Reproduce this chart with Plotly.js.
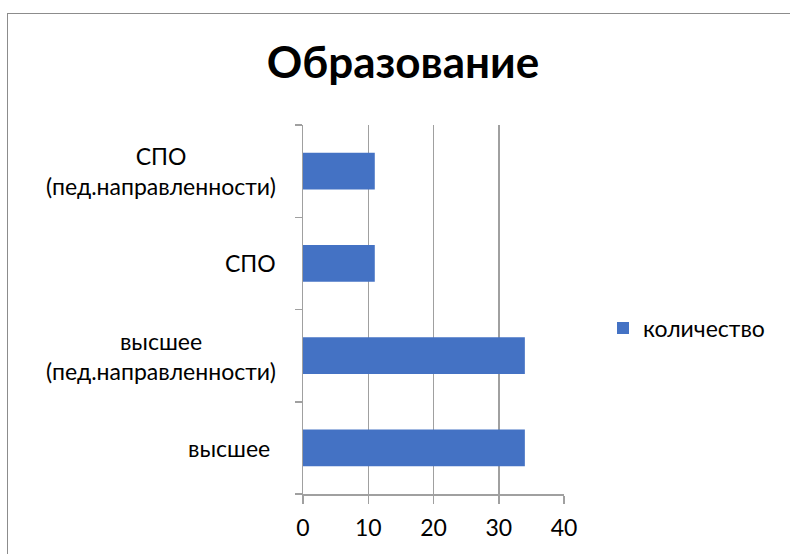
<!DOCTYPE html>
<html>
<head>
<meta charset="utf-8">
<script src="https://cdn.plot.ly/plotly-3.0.1.min.js"></script>
<style>
  html, body { margin:0; padding:0; background:#fff; }
  #wrap { position:relative; width:790px; height:554px; overflow:hidden; }
  #frame { position:absolute; left:7px; top:13px; width:820px; height:600px; border:1px solid #8c8c8c; box-sizing:border-box; }
  #chart { position:absolute; left:0; top:0; width:790px; height:554px; }
</style>
</head>
<body>
<div id="wrap">
  <div id="frame"></div>
  <div id="chart"></div>
</div>
<script>
const categories = ['высшее', 'высшее (пед.направленности)', 'СПО', 'СПО (пед.направленности)'];
const categoryLabels = ['высшее ', 'высшее<br>(пед.направленности)', 'СПО', 'СПО<br>(пед.направленности)'];
const values = [34, 34, 11, 11];
const seriesName = 'количество';
const xTicks = [0, 10, 20, 30, 40];
const chartTitle = 'Образование';

const font = 'Lato, "Open Sans", "Liberation Sans", sans-serif';
const gridColor = '#a0a0a0';

const trace = {
  type: 'bar',
  orientation: 'h',
  x: values,
  y: categories,
  name: seriesName,
  width: 0.4,
  marker: { color: '#4472C4', line: { width: 0 } },
  showlegend: true,
  hoverinfo: 'x+y'
};

const annotations = categories.map((c, i) => ({
  xref: 'paper', yref: 'y',
  x: 0, y: c,
  xanchor: 'right', yanchor: 'middle',
  xshift: -25,
  align: 'center',
  showarrow: false,
  text: categoryLabels[i],
  font: { family: font, size: 23, color: '#000' }
}));

const layout = {
  width: 790, height: 554,
  paper_bgcolor: 'rgba(0,0,0,0)',
  plot_bgcolor: 'rgba(0,0,0,0)',
  margin: { l: 303, r: 226, t: 125, b: 60, pad: 0 },
  title: {
    text: '<b>' + chartTitle + '</b>',
    font: { family: font, size: 44, color: '#000' },
    x: 403 / 790, xanchor: 'center',
    y: 1 - 63 / 554, yanchor: 'middle'
  },
  xaxis: {
    range: [0, 40],
    tickvals: xTicks,
    ticktext: xTicks.map(String),
    showgrid: true, gridcolor: gridColor, gridwidth: 1.5,
    zeroline: false,
    showline: true, linecolor: gridColor, linewidth: 1.5,
    ticks: 'outside', ticklen: 8, tickcolor: gridColor, tickwidth: 1.5,
    ticklabelstandoff: 5,
    tickfont: { family: font, size: 23, color: '#000' },
    fixedrange: true
  },
  yaxis: {
    type: 'category',
    categoryorder: 'array', categoryarray: categories,
    range: [-0.5, 3.5],
    showgrid: false, zeroline: false,
    showline: true, linecolor: gridColor, linewidth: 1.5,
    ticks: 'outside', tickson: 'boundaries', ticklen: 7, tickcolor: gridColor, tickwidth: 1.5,
    showticklabels: false,
    fixedrange: true
  },
  legend: {
    x: (603 - 303) / 261, xanchor: 'left',
    y: (494 - 328) / 369, yanchor: 'middle',
    font: { family: font, size: 23, color: '#000' },
    bgcolor: 'rgba(0,0,0,0)',
    itemwidth: 30
  },
  annotations: annotations,
  bargap: 0.6
};

Plotly.newPlot('chart', [trace], layout, { displayModeBar: false, staticPlot: true });
</script>
</body>
</html>
